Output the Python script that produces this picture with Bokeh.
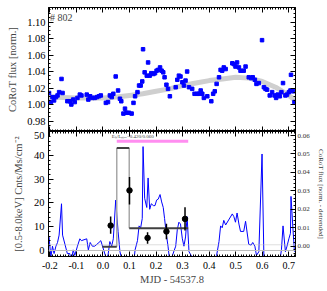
import math
from bokeh.plotting import figure
from bokeh.models import (Range1d, LinearAxis, Label, SingleIntervalTicker,
                          PrintfTickFormatter, CustomJSTickFormatter, Span)
from bokeh.layouts import column
from bokeh.embed import file_html
from bokeh.resources import INLINE

# ---- data ----
t_opt = [-0.203, -0.196, -0.190, -0.184, -0.177, -0.171, -0.165, -0.156, -0.152, -0.134,
         -0.125, -0.119, -0.112, -0.106, -0.096, -0.087, -0.081, -0.061, -0.055, -0.048,
         -0.040, -0.031, -0.023, -0.015, -0.008, 0.011, 0.019, 0.026, 0.033, 0.039,
         0.048, 0.057, 0.064, 0.069, 0.077, 0.083, 0.089, 0.098, 0.108, 0.115,
         0.121, 0.130, 0.136, 0.142, 0.148, 0.151, 0.157, 0.165, 0.170, 0.176,
         0.182, 0.190, 0.196, 0.202, 0.208, 0.215, 0.221, 0.227, 0.232, 0.239,
         0.245, 0.252, 0.274, 0.280, 0.286, 0.292, 0.299, 0.305, 0.311, 0.317,
         0.324, 0.336, 0.345, 0.355, 0.361, 0.368, 0.374, 0.380, 0.393, 0.408,
         0.415, 0.421, 0.428, 0.437, 0.443, 0.449, 0.455, 0.462, 0.487, 0.493,
         0.499, 0.505, 0.512, 0.518, 0.530, 0.537, 0.549, 0.558, 0.564, 0.572,
         0.578, 0.587, 0.599, 0.606, 0.612, 0.618, 0.628, 0.637, 0.646, 0.652,
         0.658, 0.666, 0.672, 0.678, 0.687, 0.693, 0.700, 0.706, 0.708, 0.716,
         0.721]
flux = [1.014, 1.003, 1.009, 1.005, 1.009, 1.011, 1.015, 1.031, 1.014, 1.004,
        1.004, 1.000, 1.006, 1.003, 1.008, 1.012, 1.011, 1.012, 1.006, 1.010,
        1.008, 1.008, 1.009, 1.010, 1.011, 1.002, 1.003, 1.011, 1.009, 1.013,
        1.034, 1.017, 1.007, 1.004, 0.989, 0.995, 0.990, 0.990, 0.989, 1.002,
        1.010, 1.015, 1.023, 1.023, 1.028, 1.067, 1.039, 1.035, 1.051, 1.035,
        1.038, 1.037, 1.038, 1.041, 1.042, 1.045, 1.041, 1.039, 1.033, 1.024,
        1.019, 1.010, 1.021, 1.030, 1.035, 1.034, 1.027, 1.023, 1.029, 1.040,
        1.021, 1.019, 1.013, 1.013, 1.013, 1.017, 1.013, 1.008, 1.010, 1.004,
        1.013, 1.016, 1.025, 1.033, 1.042, 1.041, 1.045, 1.043, 1.050, 1.049,
        1.046, 1.051, 1.045, 1.041, 1.041, 1.046, 1.033, 1.032, 1.033, 1.030,
        1.025, 1.026, 1.078, 1.021, 1.019, 1.018, 1.011, 1.015, 1.011, 1.008,
        1.012, 1.010, 1.015, 1.026, 1.011, 1.012, 1.015, 1.017, 1.036, 1.016,
        1.003]
detrended = [0.005, -0.006, 0.000, -0.004, 0.000, 0.002, 0.006, 0.023, 0.006, -0.004,
             -0.004, -0.008, -0.002, -0.005, 0.000, 0.004, 0.003, 0.004, -0.002, 0.002,
             0.000, 0.000, 0.001, 0.002, 0.003, -0.006, -0.005, 0.0025, 0.000, 0.004,
             0.025, 0.008, -0.003, -0.006, -0.021, -0.015, -0.021, -0.021, -0.022, -0.010,
             -0.002, 0.003, 0.011, 0.010, 0.015, 0.054, 0.026, 0.021, 0.037, 0.020,
             0.023, 0.022, 0.022, 0.025, 0.0255, 0.028, 0.024, 0.021, 0.015, 0.006,
             0.000, -0.009, 0.000, 0.009, 0.013, 0.012, 0.004, 0.000, 0.005, 0.016,
             -0.003, -0.006, -0.013, -0.013, -0.014, -0.010, -0.014, -0.020, -0.019, -0.025,
             -0.017, -0.014, -0.005, 0.0025, 0.011, 0.010, 0.014, 0.0115, 0.0175, 0.016,
             0.013, 0.018, 0.012, 0.008, 0.008, 0.0135, 0.001, 0.0006, 0.002, 0.000,
             -0.005, -0.003, 0.050, -0.006, -0.007, -0.0075, -0.013, -0.008, -0.011, -0.013,
             -0.007, -0.008, -0.002, 0.011, -0.003, 0.000, 0.004, 0.007, 0.027, 0.008,
             -0.003]
trend_t = [-0.205, -0.15, -0.10, -0.05, 0.00, 0.05, 0.10, 0.15, 0.20, 0.25, 0.30,
           0.35, 0.40, 0.45, 0.50, 0.55, 0.60, 0.65, 0.70, 0.725]
trend_f = [1.009, 1.0085, 1.008, 1.008, 1.008, 1.009, 1.011, 1.013, 1.016, 1.019, 1.023,
           1.026, 1.029, 1.031, 1.033, 1.032, 1.028, 1.021, 1.011, 1.005]

xr_t = [0.029, 0.100, 0.168, 0.239, 0.309]
xr_rate = [10.5, 25.3, 5.3, 8.0, 13.3]
xr_lo = [7.0, 19.4, 2.8, 4.7, 8.4]
xr_hi = [14.3, 30.9, 7.7, 11.3, 18.2]

blk_start = [-0.002, 0.052, 0.099]
blk_end = [0.052, 0.099, 0.321]
blk_rate = [1.6, 43.2, 9.4]

flare_start, flare_end, flare_level = 0.052, 0.321, 46.0
flare_text = "E\u2095/L\u2098\u2090\u2093=0.420/0.060"
bkg_level, zero_level = 2.4, 0.0

FONT = "Liberation Serif"
W = 327
XR = Range1d(-0.205, 0.725)
RR = Range1d(-0.0056, 0.0622)
BLANK = CustomJSTickFormatter(code="return ''")


def style_axis(ax, labels=True, size="10px"):
    ax.major_tick_in = 5
    ax.major_tick_out = 0
    ax.minor_tick_in = 2
    ax.minor_tick_out = 0
    ax.axis_line_color = "black"
    ax.major_tick_line_color = "black"
    ax.minor_tick_line_color = "black"
    ax.major_label_text_font = FONT
    ax.axis_label_text_font = FONT
    ax.axis_label_text_font_style = "normal"
    ax.major_label_text_color = "black"
    ax.major_label_text_font_size = size
    if not labels:
        ax.formatter = BLANK
        ax.major_label_standoff = 0


# ---- top panel ----
p1 = figure(width=W, height=131, x_range=XR, y_range=Range1d(0.9673, 1.1176),
            output_backend="svg", toolbar_location=None,
            min_border_left=48, min_border_right=32, min_border_top=7, min_border_bottom=0)
p1.grid.visible = False
p1.outline_line_color = "black"

p1.line(trend_t, trend_f, line_color="#cfcfcf", line_width=5)
p1.scatter(t_opt, flux, marker="square", size=3.5, color="#0000ff")

p1.xaxis.ticker = SingleIntervalTicker(interval=0.1, num_minor_ticks=10)
style_axis(p1.xaxis[0], labels=False)
p1.yaxis.ticker = SingleIntervalTicker(interval=0.02, num_minor_ticks=4)
p1.yaxis.formatter = PrintfTickFormatter(format="%.2f")
p1.yaxis.axis_label = "CoRoT flux [norm.]"
style_axis(p1.yaxis[0], size="10.5px")
p1.yaxis.axis_label_text_font_size = "10.5px"
p1.yaxis.major_label_standoff = 3
p1.yaxis.axis_label_standoff = 6

ax = LinearAxis(ticker=SingleIntervalTicker(interval=0.1, num_minor_ticks=10))
style_axis(ax, labels=False)
p1.add_layout(ax, "above")
ax = LinearAxis(ticker=SingleIntervalTicker(interval=0.02, num_minor_ticks=4))
style_axis(ax, labels=False)
p1.add_layout(ax, "right")

p1.add_layout(Label(x=-0.199, y=1.106, text="# 802", text_font=FONT,
                    text_font_size="10px", text_baseline="middle"))

# ---- bottom panel ----
p2 = figure(width=W, height=159, x_range=XR, y_range=Range1d(-2.53, 50.1),
            output_backend="svg", toolbar_location=None,
            min_border_left=48, min_border_right=32, min_border_top=0, min_border_bottom=34)
p2.grid.visible = False
p2.outline_line_color = "black"
p2.extra_y_ranges = {"r": RR}

p2.add_layout(Span(location=zero_level, dimension="width", line_color="#bdbdbd", line_width=1))
p2.add_layout(Span(location=bkg_level, dimension="width", line_color="#bdbdbd",
                   line_width=1, line_dash="1 1"))

p2.line(t_opt, detrended, y_range_name="r", line_color="#0000ff", line_width=1)

p2.segment(x0=blk_end[:-1], y0=blk_rate[:-1], x1=blk_end[:-1], y1=blk_rate[1:],
           line_color="#a8a8a8", line_width=1.5)
p2.segment(x0=blk_start, y0=blk_rate, x1=blk_end, y1=blk_rate,
           line_color="#404040", line_width=2)

p2.segment(x0=[flare_start], y0=[flare_level], x1=[flare_end], y1=[flare_level],
           line_color="#ff8ef0", line_width=3)
p2.add_layout(Label(x=0.033, y=flare_level + 0.9, text=flare_text, text_font=FONT,
                    text_font_size="5px", text_baseline="bottom"))

p2.segment(x0=xr_t, y0=xr_lo, x1=xr_t, y1=xr_hi, line_color="black", line_width=1.5)
p2.scatter(xr_t, xr_rate, marker="circle", size=5.5, color="black")

p2.xaxis.ticker = SingleIntervalTicker(interval=0.1, num_minor_ticks=10)
p2.xaxis.formatter = PrintfTickFormatter(format="%.1f")
p2.xaxis.axis_label = "MJD - 54537.8"
style_axis(p2.xaxis[0], size="10px")
p2.xaxis.axis_label_text_font_size = "10.5px"
p2.xaxis.major_label_standoff = 5
p2.xaxis.axis_label_standoff = 2

p2.yaxis.ticker = SingleIntervalTicker(interval=10, num_minor_ticks=5)
p2.yaxis.formatter = PrintfTickFormatter(format="%d")
p2.yaxis.axis_label = "[0.5-8.0keV] Cnts/Ms/cm\u207b\u00b2"
style_axis(p2.yaxis[0], size="10.5px")
p2.yaxis.axis_label_text_font_size = "10.5px"
p2.yaxis.major_label_standoff = 4
p2.yaxis.axis_label_standoff = 7

ax = LinearAxis(ticker=SingleIntervalTicker(interval=0.1, num_minor_ticks=10))
style_axis(ax, labels=False)
p2.add_layout(ax, "above")

ax = LinearAxis(y_range_name="r", ticker=SingleIntervalTicker(interval=0.01, num_minor_ticks=5),
                formatter=PrintfTickFormatter(format="%.2f"),
                axis_label="CoRoT flux [norm. - detrended]")
style_axis(ax, size="7px")
ax.axis_label_text_font_size = "7px"
ax.major_label_standoff = 2
ax.axis_label_standoff = 4
ax.axis_label_text_color = "#333333"
ax.major_label_text_color = "#333333"
p2.add_layout(ax, "right")

layout = column(p1, p2, spacing=0)
open("out.html", "w").write(file_html(layout, INLINE))
